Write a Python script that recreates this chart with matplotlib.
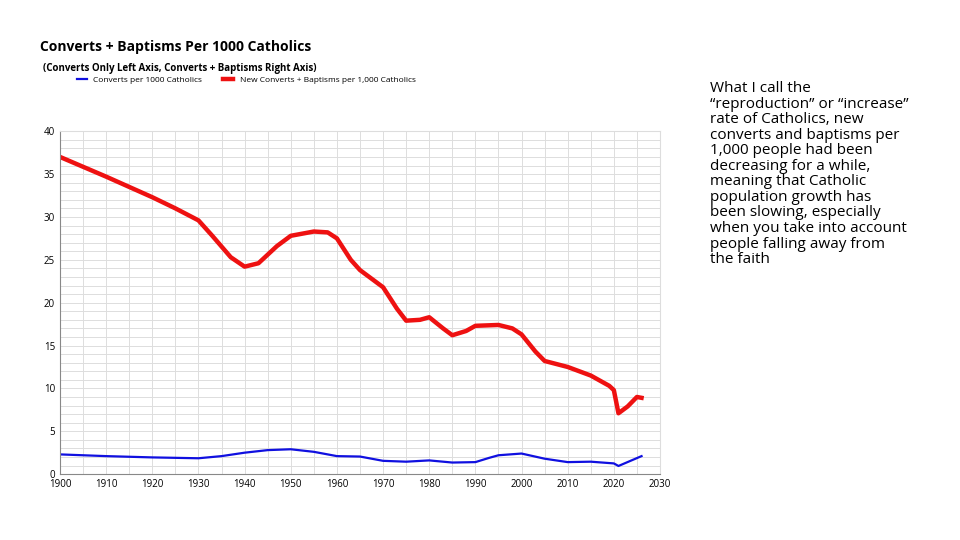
import matplotlib.pyplot as plt
from matplotlib.ticker import MultipleLocator

plt.rcParams["font.family"] = ["Open Sans", "DejaVu Sans"]

red_years = [1900, 1910, 1920, 1925, 1930, 1933, 1937, 1940, 1943, 1947, 1950, 1955, 1958, 1960,
             1963, 1965, 1970, 1973, 1975, 1978, 1980, 1983, 1985, 1988, 1990, 1995, 1998, 2000,
             2003, 2005, 2010, 2015, 2019, 2020, 2021, 2023, 2025, 2026]
red_vals = [37, 34.7, 32.3, 31.0, 29.6, 27.8, 25.3, 24.2, 24.6, 26.6, 27.8, 28.3, 28.2, 27.5,
            25.0, 23.8, 21.8, 19.3, 17.9, 18.0, 18.3, 17.0, 16.2, 16.7, 17.3, 17.4, 17.0, 16.3,
            14.3, 13.2, 12.5, 11.5, 10.3, 9.8, 7.1, 7.9, 9.0, 8.9]

blue_years = [1900, 1910, 1920, 1930, 1935, 1940, 1945, 1950, 1955, 1960, 1965, 1968, 1970, 1975,
              1980, 1985, 1990, 1993, 1995, 2000, 2005, 2010, 2015, 2020, 2021, 2026]
blue_vals = [2.3, 2.1, 1.95, 1.85, 2.1, 2.5, 2.8, 2.9, 2.6, 2.1, 2.05, 1.75, 1.55, 1.45,
             1.6, 1.35, 1.4, 1.9, 2.2, 2.4, 1.8, 1.4, 1.45, 1.25, 0.95, 2.1]

fig = plt.figure(figsize=(9.6, 5.4), dpi=100)
ax = fig.add_axes([0.0625, 0.122, 0.625, 0.635])

ax.plot(blue_years, blue_vals, color="#1010e0", lw=1.6, label="Converts per 1000 Catholics")
ax.plot(red_years, red_vals, color="#ee1111", lw=3.2, label="New Converts + Baptisms per 1,000 Catholics")

ax.set_xlim(1900, 2030)
ax.set_ylim(0, 40)
ax.xaxis.set_major_locator(MultipleLocator(10))
ax.xaxis.set_minor_locator(MultipleLocator(5))
ax.yaxis.set_major_locator(MultipleLocator(5))
ax.yaxis.set_minor_locator(MultipleLocator(1))
ax.grid(True, which="both", color="#dddddd", lw=0.7)
ax.set_axisbelow(True)
ax.tick_params(labelsize=7, length=0, which="both")
for s in ["top", "right"]:
    ax.spines[s].set_color("#dddddd")
for s in ["left", "bottom"]:
    ax.spines[s].set_color("#888888")

fig.text(0.042, 0.905, "Converts + Baptisms Per 1000 Catholics", fontsize=10, fontweight="bold")
fig.text(0.045, 0.868, "(Converts Only Left Axis, Converts + Baptisms Right Axis)", fontsize=7, fontweight="bold")
fig.legend(loc="upper left", bbox_to_anchor=(0.072, 0.873), ncol=2, fontsize=6, frameon=False,
           handlelength=1.2, columnspacing=2.5)

fig.text(0.74, 0.85,
         "What I call the\n\u201creproduction\u201d or \u201cincrease\u201d\nrate of Catholics, new\n"
         "converts and baptisms per\n1,000 people had been\ndecreasing for a while,\n"
         "meaning that Catholic\npopulation growth has\nbeen slowing, especially\n"
         "when you take into account\npeople falling away from\nthe faith",
         fontsize=11, va="top", linespacing=1.05)

fig.savefig("out.png", dpi=100)
